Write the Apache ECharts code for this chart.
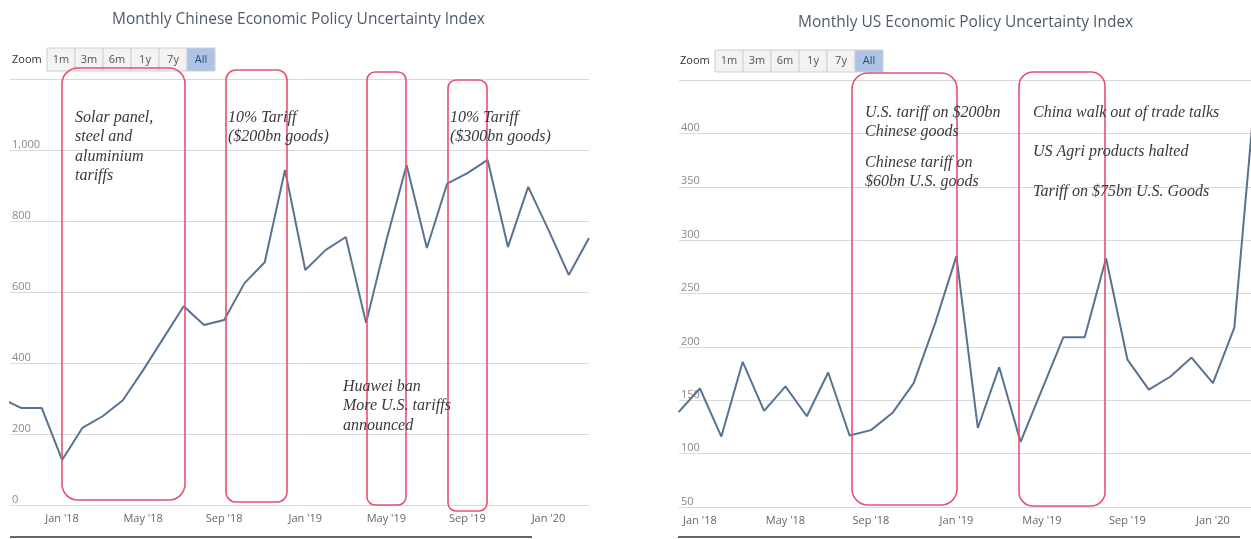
<!DOCTYPE html>
<html>
<head>
<meta charset="utf-8">
<title>Monthly Economic Policy Uncertainty Index</title>
<script src="https://cdn.jsdelivr.net/npm/echarts@6.0.0/dist/echarts.min.js"></script>
<style>
    html, body { margin: 0; padding: 0; background: #fff; }
    #main { width: 1251px; height: 539px; }
</style>
</head>
<body>
<div id="main"></div>
<script>
// months shown on both charts (Oct '17 .. Mar '20)
var months = ["Oct '17", "Nov '17", "Dec '17", "Jan '18", "Feb '18", "Mar '18", "Apr '18", "May '18",
    "Jun '18", "Jul '18", "Aug '18", "Sep '18", "Oct '18", "Nov '18", "Dec '18", "Jan '19", "Feb '19",
    "Mar '19", "Apr '19", "May '19", "Jun '19", "Jul '19", "Aug '19", "Sep '19", "Oct '19", "Nov '19",
    "Dec '19", "Jan '20", "Feb '20", "Mar '20"];
var tickLabels = ["Jan '18", "May '18", "Sep '18", "Jan '19", "May '19", "Sep '19", "Jan '20"];

var chinaEpu = [300, 273, 273, 127, 217, 250, 295, 380, 470, 560, 507, 521, 625, 684, 944,
    662, 718, 755, 513, 745, 958, 724, 905, 935, 972, 727, 896, 775, 648, 752];
var usEpu = [null, null, 139, 161, 116, 186, 140, 163, 135, 176, 117, 122, 138, 166, 222,
    285, 124, 181, 111, 160, 209, 209, 283, 188, 160, 172, 190, 166, 218, 445];

var zoomButtons = ['1m', '3m', '6m', '1y', '7y', 'All'];

var chinaNotes = [
    {x: 75, y: 108, text: 'Solar panel,\nsteel and\naluminium\ntariffs'},
    {x: 228, y: 108, text: '10% Tariff\n($200bn goods)'},
    {x: 450, y: 108, text: '10% Tariff\n($300bn goods)'},
    {x: 343, y: 377, text: 'Huawei ban\nMore U.S. tariffs\nannounced'}
];
var usNotes = [
    {x: 865, y: 103, text: 'U.S. tariff on $200bn\nChinese goods'},
    {x: 865, y: 153, text: 'Chinese tariff on\n$60bn U.S. goods'},
    {x: 1033, y: 103, text: 'China walk out of trade talks'},
    {x: 1033, y: 142, text: 'US Agri products halted'},
    {x: 1033, y: 182, text: 'Tariff on $75bn U.S. Goods'}
];
// red boxes [x, y, w, h, radius]
var boxes = [
    [62, 68, 123, 432, 16], [226, 70, 61, 432, 10], [367, 72, 39, 433, 8], [448, 80, 39, 431, 8],
    [852, 73, 105, 432, 16], [1019, 72, 86, 434, 14]
];

var tickIdx = tickLabels.map(function (t) { return months.indexOf(t); });

function toPoints(values) {
    var pts = [];
    values.forEach(function (v, i) {
        if (v !== null) pts.push([i, v]);
    });
    return pts;
}

function zoomBar(x, y, bw, bh) {
    var els = [{
        type: 'text', x: x, y: y + bh / 2,
        style: {text: 'Zoom', fill: '#333', font: '11px "Open Sans"', verticalAlign: 'middle'}
    }];
    var bx = x + 35;
    zoomButtons.forEach(function (b) {
        var sel = b === 'All';
        els.push({
            type: 'rect', shape: {x: bx, y: y, width: bw, height: bh},
            style: {fill: sel ? '#adc4e6' : '#f3f3f3', stroke: '#cfcfcf', lineWidth: 1}
        });
        els.push({
            type: 'text', x: bx + bw / 2, y: y + bh / 2,
            style: {text: b, fill: sel ? '#2d4d78' : '#555', font: '11px "Open Sans"',
                align: 'center', verticalAlign: 'middle'}
        });
        bx += bw;
    });
    return els;
}

function noteText(n) {
    return {
        type: 'text', x: n.x, y: n.y, z: 10,
        style: {text: n.text, fill: '#3a3a3a', font: 'italic 16px "Liberation Serif"',
            lineHeight: 19.5, verticalAlign: 'top'}
    };
}

function axisX(gridIndex, min, max) {
    return {
        type: 'value', gridIndex: gridIndex, min: min, max: max,
        axisLine: {show: false}, axisTick: {show: false}, splitLine: {show: false},
        axisLabel: {
            customValues: tickIdx, color: '#666', fontSize: 11, fontFamily: 'Open Sans', margin: 8,
            formatter: function (v) { return months[Math.round(v)]; }
        }
    };
}

function axisY(gridIndex, min, max, step, fmt) {
    return {
        type: 'value', gridIndex: gridIndex, min: min, max: max, interval: step,
        axisLine: {show: false}, axisTick: {show: false},
        splitLine: {lineStyle: {color: '#d9d9d9', width: 1}},
        axisLabel: {
            inside: true, showMaxLabel: false, verticalAlign: 'bottom', margin: 2,
            color: '#8a8a8a', fontSize: 11, fontFamily: 'Open Sans', formatter: fmt
        }
    };
}

var chart = echarts.init(document.getElementById('main'), null, {renderer: 'canvas'});

var graphics = [];
graphics = graphics.concat(zoomBar(12, 48, 28, 23), zoomBar(680, 50, 28, 22));
boxes.forEach(function (b) {
    graphics.push({
        type: 'rect', z: 10, shape: {x: b[0], y: b[1], width: b[2], height: b[3], r: b[4]},
        style: {fill: 'none', stroke: '#e5536f', lineWidth: 1.6}
    });
});
chinaNotes.concat(usNotes).forEach(function (n) { graphics.push(noteText(n)); });
// navigator edge under each chart
graphics.push({type: 'line', shape: {x1: 10, y1: 537, x2: 532, y2: 537}, style: {stroke: '#666', lineWidth: 2}});
graphics.push({type: 'line', shape: {x1: 678, y1: 537, x2: 1240, y2: 537}, style: {stroke: '#666', lineWidth: 2}});

var lineStyle = {color: '#587391', width: 2};

var option = {
    animation: false,
    title: [
        {text: 'Monthly Chinese Economic Policy Uncertainty Index', left: 112, top: 12, padding: 0,
            textStyle: {fontSize: 15.5, fontWeight: 'normal', color: '#4e5b6b', fontFamily: 'Open Sans'}},
        {text: 'Monthly US Economic Policy Uncertainty Index', left: 798, top: 15, padding: 0,
            textStyle: {fontSize: 15.5, fontWeight: 'normal', color: '#4e5b6b', fontFamily: 'Open Sans'}}
    ],
    grid: [
        {left: 10, top: 79, width: 579, height: 426},
        {left: 679, top: 80, width: 572, height: 427}
    ],
    xAxis: [axisX(0, 0.43, 29), axisX(1, 2.02, 28.78)],
    yAxis: [
        axisY(0, 0, 1200, 200, function (v) { return v.toLocaleString('en-US'); }),
        axisY(1, 50, 450, 50, function (v) { return String(v); })
    ],
    series: [
        {type: 'line', xAxisIndex: 0, yAxisIndex: 0, data: toPoints(chinaEpu),
            symbol: 'none', clip: true, lineStyle: lineStyle, itemStyle: {color: lineStyle.color}},
        {type: 'line', xAxisIndex: 1, yAxisIndex: 1, data: toPoints(usEpu),
            symbol: 'none', clip: true, lineStyle: lineStyle, itemStyle: {color: lineStyle.color}}
    ],
    graphic: graphics
};
chart.setOption(option);
</script>
</body>
</html>
